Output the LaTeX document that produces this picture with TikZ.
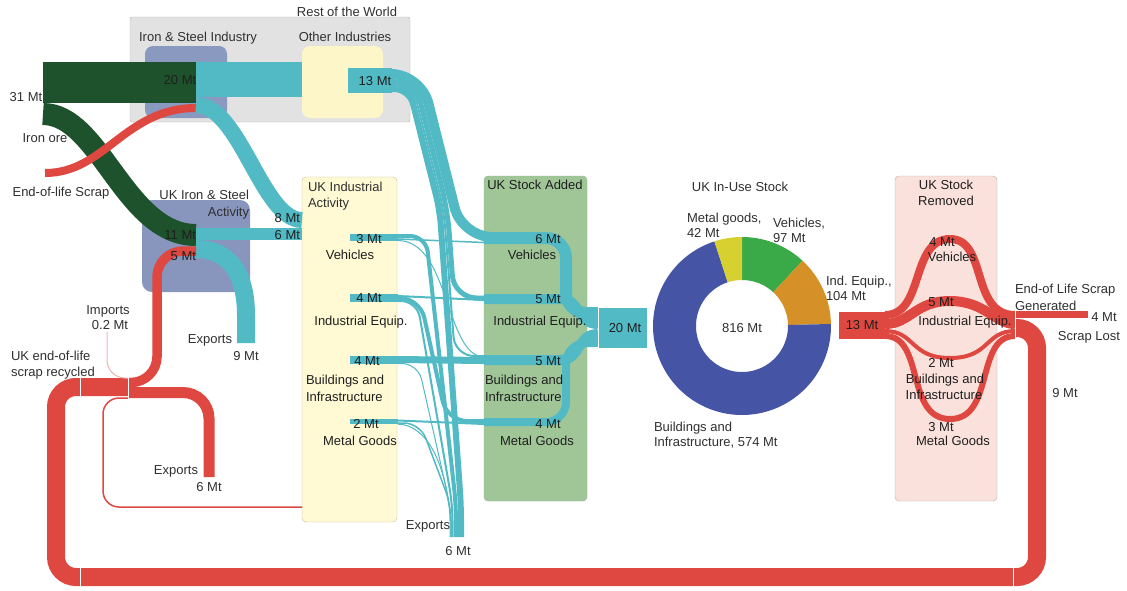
\documentclass[tikz,border=0pt]{standalone}
\usepackage{fontspec}
\setmainfont{Liberation Sans}
\frenchspacing
\definecolor{tealc}{RGB}{82,186,196}
\definecolor{redc}{RGB}{222,72,64}
\definecolor{dgreen}{RGB}{30,82,44}
\definecolor{greybox}{RGB}{226,226,226}
\definecolor{greyline}{RGB}{180,180,180}
\definecolor{bluebox}{RGB}{138,153,192}
\definecolor{bluebox2}{RGB}{136,150,190}
\definecolor{yelbox}{RGB}{252,246,200}
\definecolor{yelbox2}{RGB}{255,249,212}
\definecolor{yelline}{RGB}{200,190,150}
\definecolor{saboxc}{RGB}{160,198,152}
\definecolor{saline}{RGB}{150,180,140}
\definecolor{srboxc}{RGB}{250,225,219}
\definecolor{srline}{RGB}{190,172,172}
\definecolor{dblue}{RGB}{70,84,166}
\definecolor{dgreen2}{RGB}{58,170,72}
\definecolor{dorange}{RGB}{214,144,40}
\definecolor{dyellow}{RGB}{214,208,48}
\definecolor{txtc}{RGB}{48,48,48}
\definecolor{pinkline}{RGB}{236,180,180}
\begin{document}
\begin{tikzpicture}[x=1pt,y=-1pt,
 tf/.style={draw=tealc, line width=#1},
 rf/.style={draw=redc, line width=#1},
 lab/.style={inner sep=0pt, outer sep=0pt, font=\fontsize{13}{16}\selectfont, text=txtc, text height=9.4pt, text depth=0pt},
 dlab/.style={lab, text=black!88},
 boxn/.style={inner sep=0pt, outer sep=0pt, anchor=north west},
 sepl/.style={draw=white, line width=1pt}
]
\useasboundingbox (0,0) rectangle (1127,590);
\node[boxn, fill=white, minimum width=1127pt, minimum height=590pt] (bg) at (0,0) {};

% ---------- boxes ----------
\node[boxn, draw=greyline, fill=greybox, rounded corners=2pt, minimum width=280pt, minimum height=105pt] (rowbox) at (130,17) {};
\node[boxn, fill=bluebox, rounded corners=8pt, minimum width=82pt, minimum height=72pt] (isbox) at (145,46) {};
\node[boxn, fill=yelbox, rounded corners=8pt, minimum width=81pt, minimum height=72pt] (oibox) at (302,46) {};
\node[boxn, fill=bluebox2, rounded corners=10pt, minimum width=108pt, minimum height=92pt] (ukisbox) at (142,200) {};
\node[boxn, draw=yelline, fill=yelbox2, rounded corners=4pt, minimum width=95pt, minimum height=345pt] (uiabox) at (302,177) {};
\node[boxn, draw=saline, fill=saboxc, rounded corners=4pt, minimum width=103pt, minimum height=325pt] (sabox) at (484,176) {};
\node[boxn, draw=srline, fill=srboxc, rounded corners=4pt, minimum width=102pt, minimum height=325pt] (srbox) at (895,176) {};

% ---------- coordinates ----------
\coordinate (ore) at (43,82.5);
\coordinate (rowis) at (196,82.5);
\coordinate (ore2) at (43,114);
\coordinate (ukis) at (196,235);
\coordinate (eols) at (45,173);
\coordinate (rowisr) at (196,108);
\coordinate (rowist) at (196,79.5);
\coordinate (oiin) at (302,79.5);
\coordinate (rowisd) at (196,105);
\coordinate (uia8) at (302,220);
\coordinate (ukis6) at (196,234);
\coordinate (uia6) at (302,234);
\coordinate (ukise) at (196,249);
\coordinate (exp9) at (246,343);

% ---------- left part ----------
\draw[dgreen, line width=41pt] (ore) -- (rowis);
\draw[dgreen, line width=22pt] (ore2) .. controls (100,114) and (125,235) .. (ukis);
\draw[rf=8pt] (eols) .. controls (105,173) and (125,108) .. (rowisr);
\draw[tf=35pt] (rowist) -- (oiin);
\draw[tf=16pt] (rowisd) .. controls (240,105) and (262,220) .. (uia8);
\draw[tf=12pt] (ukis6) -- (uia6);
\draw[tf=18pt] (ukise) .. controls (230,249) and (246,275) .. (246,315) -- (exp9);
\node[boxn, fill=tealc, minimum width=44pt, minimum height=25pt] (oi13) at (348,68) {};
\draw[sepl, line width=0.7pt] (392,69) -- (392,92);

% ---------- red recycling loop ----------
\coordinate (eolg) at (1015,328);
\coordinate (rec) at (128,387);
\coordinate (rec5) at (128,382.5);
\coordinate (ukis5) at (196,251);
\coordinate (rece) at (128,392.5);
\coordinate (exp6r) at (209,477);
\draw[rf=9.5pt, rounded corners=26pt] (rec5) -- (157,382.5) -- (157,251) -- (ukis5);
\draw[rf=11pt, rounded corners=26pt] (rece) -- (209,392.5) -- (exp6r);
\draw[rf=18pt, rounded corners=20pt] (eolg) -- (1037,328) -- (1037,577) -- (56,577) -- (56,387) -- (rec);
\draw[rf=1.5pt, rounded corners=16pt] (128,398) -- (103,398) -- (103,507) -- (302,507);
\draw[draw=pinkline, line width=1pt, rounded corners=18pt] (107,332) -- (107,378) -- (128,378);
\draw[sepl] (80,378) -- (80,396);
\draw[sepl] (128,378) -- (128,398);
\draw[sepl] (80,568) -- (80,586);
\draw[sepl] (1013,568) -- (1013,586);

% ---------- teal middle: descending strands ----------
\draw[tf=10pt, rounded corners=30pt] (392,74) -- (421,74) -- (462,237) -- (510,237);
\draw[tf=5pt, rounded corners=22.5pt] (392,81.5) -- (415.2,81.5) -- (447.5,210) -- (454,298) -- (510,298);
\draw[tf=2pt, rounded corners=19pt] (392,85) -- (412.4,85) -- (443.8,210) -- (455,356) -- (510,356);
\draw[tf=6pt, rounded corners=15pt] (392,89) -- (409.3,89) -- (439.7,210) -- (461,505) -- (461,537);
\draw[tf=4pt, rounded corners=16pt] (398,236) -- (426,236) -- (456,505) -- (456,537);
\draw[tf=2pt, rounded corners=16pt] (398,301) -- (417,301) -- (452.5,505) -- (452.5,537);
\draw[tf=1pt, rounded corners=16pt] (398,363.5) -- (418,363.5) -- (450,505) -- (450,537);
\draw[tf=1.5pt, rounded corners=16pt] (398,423) -- (420,423) -- (451,505) -- (451,537);
\draw[tf=1pt] (398,424.2) .. controls (415,424.2) and (440,440) .. (449,505);
\draw[tf=4pt, rounded corners=20pt] (398,298) -- (420,298) -- (447,421) -- (484,421);
% horizontals
\draw[tf=1.5pt] (398,239) -- (484,242.5);
\draw[tf=1pt] (398,240.5) .. controls (450,241) and (445,356) .. (484,357);
\draw[tf=2pt] (398,296) -- (484,300);
\draw[tf=7pt] (398,359.5) -- (484,360.5);
\draw[tf=2pt] (398,420.5) -- (484,424);
% UK industrial activity node bars
\node[boxn, fill=tealc, minimum width=48pt, minimum height=7pt] (iav) at (350,234) {};
\node[boxn, fill=tealc, minimum width=48pt, minimum height=8pt] (iai) at (350,294) {};
\node[boxn, fill=tealc, minimum width=48pt, minimum height=8pt] (iab) at (350,356) {};
\node[boxn, fill=tealc, minimum width=48pt, minimum height=5pt] (iam) at (350,419) {};

% ---------- stock added to 20 Mt ----------
\draw[tf=12pt, rounded corners=20pt] (484,238) -- (566,238) -- (566,313) -- (598,313);
\draw[tf=10pt] (484,299) -- (560,299) .. controls (582,299) and (576,324) .. (598,324);
\draw[tf=10pt] (484,360) -- (560,360) .. controls (582,360) and (576,334) .. (598,334);
\draw[tf=8pt, rounded corners=20pt] (484,422) -- (566,422) -- (566,343) -- (598,343);
\node[boxn, fill=tealc, draw=white, line width=0.8pt, minimum width=49pt, minimum height=41pt] (s20) at (598,307) {};

% ---------- donut ----------
\fill[dgreen2] plot[domain=-90:-47.2, samples=30] ({742+89*cos(\x)},{326+89*sin(\x)}) -- plot[domain=-47.2:-90, samples=30] ({742+46*cos(\x)},{326+46*sin(\x)}) -- cycle;
\fill[dorange] plot[domain=-47.2:-1.3, samples=30] ({742+89*cos(\x)},{326+89*sin(\x)}) -- plot[domain=-1.3:-47.2, samples=30] ({742+46*cos(\x)},{326+46*sin(\x)}) -- cycle;
\fill[dblue] plot[domain=-1.3:251.9, samples=120] ({742+89*cos(\x)},{326+89*sin(\x)}) -- plot[domain=251.9:-1.3, samples=120] ({742+46*cos(\x)},{326+46*sin(\x)}) -- cycle;
\fill[dyellow] plot[domain=251.9:270, samples=20] ({742+89*cos(\x)},{326+89*sin(\x)}) -- plot[domain=270:251.9, samples=20] ({742+46*cos(\x)},{326+46*sin(\x)}) -- cycle;

% ---------- stock removed ----------
\node[boxn, fill=redc, draw=white, line width=0.8pt, minimum width=47pt, minimum height=28pt] (r13) at (838,311) {};
\coordinate (rv0) at (885,315); \coordinate (rv1) at (1015,315);
\coordinate (ri0) at (885,324); \coordinate (ri1) at (1015,324);
\coordinate (rb0) at (885,331); \coordinate (rb1) at (1015,331);
\coordinate (rm0) at (885,336); \coordinate (rm1) at (1015,336);
\draw[rf=8pt] (rv0) .. controls (925,315) and (910,239) .. (950,239) .. controls (988,239) and (970,315) .. (rv1);
\draw[rf=10pt] (ri0) .. controls (910,324) and (915,301) .. (950,301) .. controls (985,301) and (995,324) .. (ri1);
\draw[rf=4pt] (rb0) .. controls (915,331) and (910,358) .. (950,358) .. controls (990,358) and (985,331) .. (rb1);
\draw[rf=6pt] (rm0) .. controls (925,336) and (905,419) .. (950,419) .. controls (995,419) and (975,336) .. (rm1);
\coordinate (lost) at (1088,314);
\draw[rf=7pt] (1015,314) -- (lost);
\draw[sepl] (1015,309) -- (1015,338);

% ---------- labels ----------
\node[lab] (t01) at (347,12) {Rest of the World};
\node[lab] (t02) at (198,37) {Iron \& Steel Industry};
\node[lab] (t03) at (345,37) {Other Industries};
\node[dlab] (t04) at (180,80) {20 Mt};
\node[dlab] (t05) at (375,81) {13 Mt};
\node[lab] (t06) at (26,97) {31 Mt};
\node[lab] (t07) at (45,138) {Iron ore};
\node[lab] (t08) at (61,192) {End-of-life Scrap};
\node[lab, anchor=east] (t09) at (249,195) {UK Iron \& Steel};
\node[lab, anchor=east] (t10) at (249,212) {Activity};
\node[dlab, anchor=east] (t11) at (300,218) {8 Mt};
\node[dlab, anchor=east] (t12) at (300,235) {6 Mt};
\node[dlab, anchor=east] (t13) at (196,235) {11 Mt};
\node[dlab, anchor=east] (t14) at (196,256) {5 Mt};
\node[lab] (t15) at (108,310) {Imports};
\node[lab] (t16) at (110,325) {0.2 Mt};
\node[lab] (t17) at (210,339) {Exports};
\node[lab] (t18) at (246,356) {9 Mt};
\node[lab, anchor=west] (t19) at (11,356) {UK end-of-life};
\node[lab, anchor=west] (t20) at (11,372) {scrap recycled};
\node[lab] (t21) at (176,470) {Exports};
\node[lab] (t22) at (209,487) {6 Mt};
\node[lab, anchor=west] (t23) at (308,187) {UK Industrial};
\node[lab, anchor=west] (t24) at (308,203) {Activity};
\node[dlab] (t25) at (369,239) {3 Mt};
\node[dlab] (t26) at (350,255) {Vehicles};
\node[dlab] (t27) at (369,298) {4 Mt};
\node[dlab] (t28) at (361,321) {Industrial Equip.};
\node[dlab] (t29) at (367,361) {4 Mt};
\node[dlab, anchor=west] (t30) at (306,380) {Buildings and};
\node[dlab, anchor=west] (t31) at (306,397) {Infrastructure};
\node[dlab] (t32) at (366,424) {2 Mt};
\node[dlab] (t33) at (360,441) {Metal Goods};
\node[lab] (t34) at (428,525) {Exports};
\node[lab] (t35) at (458,551) {6 Mt};
\node[dlab] (t36) at (535,185) {UK Stock Added};
\node[dlab] (t37) at (548,239) {6 Mt};
\node[dlab] (t38) at (532,255) {Vehicles};
\node[dlab] (t39) at (548,299) {5 Mt};
\node[dlab] (t40) at (540,321) {Industrial Equip.};
\node[dlab] (t41) at (548,361) {5 Mt};
\node[dlab, anchor=west] (t42) at (485,380) {Buildings and};
\node[dlab, anchor=west] (t43) at (485,397) {Infrastructure};
\node[dlab] (t44) at (548,424) {4 Mt};
\node[dlab] (t45) at (537,441) {Metal Goods};
\node[dlab] (t46) at (625,328) {20 Mt};
\node[lab] (t47) at (740,187) {UK In-Use Stock};
\node[lab, anchor=west] (t48) at (687,218) {Metal goods,};
\node[lab, anchor=west] (t49) at (687,233) {42 Mt};
\node[lab, anchor=west] (t50) at (773,223) {Vehicles,};
\node[lab, anchor=west] (t51) at (773,238) {97 Mt};
\node[lab, anchor=west] (t52) at (826,281) {Ind. Equip.,};
\node[lab, anchor=west] (t53) at (826,296) {104 Mt};
\node[lab] (t54) at (742,328) {816 Mt};
\node[lab, anchor=west] (t55) at (654,427) {Buildings and};
\node[lab, anchor=west] (t56) at (654,442) {Infrastructure, 574 Mt};
\node[dlab] (t57) at (946,185) {UK Stock};
\node[dlab] (t58) at (946,201) {Removed};
\node[dlab] (t59) at (862,325) {13 Mt};
\node[dlab] (t60) at (942,242) {4 Mt};
\node[dlab] (t61) at (952,257) {Vehicles};
\node[dlab] (t62) at (941,302) {5 Mt};
\node[dlab] (t63) at (965,321) {Industrial Equip.};
\node[dlab] (t64) at (941,363) {2 Mt};
\node[dlab] (t65) at (945,379) {Buildings and};
\node[dlab] (t66) at (944,395) {Infrastructure};
\node[dlab] (t67) at (941,427) {3 Mt};
\node[dlab] (t68) at (953,441) {Metal Goods};
\node[lab, anchor=west] (t69) at (1015,289) {End-of Life Scrap};
\node[lab, anchor=west] (t70) at (1015,306) {Generated};
\node[lab] (t71) at (1104,317) {4 Mt};
\node[lab] (t72) at (1089,336) {Scrap Lost};
\node[lab] (t73) at (1065,393) {9 Mt};
\end{tikzpicture}
\end{document}
